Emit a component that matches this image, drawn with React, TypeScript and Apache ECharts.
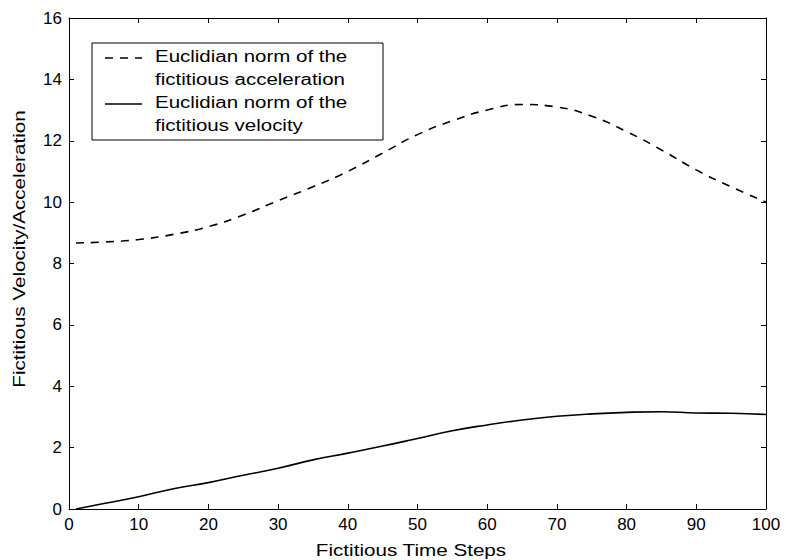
import React, { useEffect, useRef } from "react";
import * as echarts from "echarts";

const xSteps = [1, 5, 10, 15, 20, 25, 30, 35, 40, 45, 50, 55, 60, 65, 70, 75, 80, 85, 90, 95, 100];
const accelNorm = [8.67, 8.7, 8.78, 8.95, 9.2, 9.58, 10.05, 10.5, 11.0, 11.6, 12.2, 12.65, 13.0, 13.18, 13.1, 12.8, 12.3, 11.7, 11.05, 10.5, 10.0];
const velocityNorm = [0.0, 0.18, 0.4, 0.66, 0.86, 1.1, 1.33, 1.6, 1.82, 2.05, 2.3, 2.55, 2.74, 2.9, 3.02, 3.1, 3.15, 3.17, 3.13, 3.12, 3.08];

const legendLines = [
  "Euclidian norm of the",
  "fictitious acceleration",
  "Euclidian norm of the",
  "fictitious velocity",
];
const xTitle = "Fictitious Time Steps";
const yTitle = "Fictitious Velocity/Acceleration";

const FONT = "'Liberation Sans', Arial, Helvetica, sans-serif";

export default function App() {
  const ref = useRef<HTMLDivElement>(null);
  useEffect(() => {
    if (!ref.current) return;
    const chart = echarts.init(ref.current, null, { renderer: "svg" });
    const axisCommon = {
      type: "value" as const,
      axisLine: { show: true, onZero: false, lineStyle: { color: "#000", width: 1 } },
      axisTick: { show: true, inside: true, length: 5, lineStyle: { color: "#000" } },
      splitLine: { show: false },
    };
    const labelStyle = { color: "#000", fontSize: 17, fontFamily: FONT };
    chart.setOption({
      animation: false,
      backgroundColor: "#fff",
      grid: { left: 69, right: 20, top: 18, bottom: 51 },
      xAxis: [
        { ...axisCommon, min: 0, max: 100, interval: 10, position: "bottom", axisLabel: { ...labelStyle, margin: 7 } },
        { ...axisCommon, min: 0, max: 100, interval: 10, position: "top", axisLabel: { show: false } },
      ],
      yAxis: [
        { ...axisCommon, min: 0, max: 16, interval: 2, position: "left", axisLabel: { ...labelStyle, margin: 7 } },
        { ...axisCommon, min: 0, max: 16, interval: 2, position: "right", axisLabel: { show: false } },
      ],
      series: [
        {
          type: "line",
          name: "acceleration",
          data: xSteps.map((x, i) => [x, accelNorm[i]]),
          smooth: true,
          showSymbol: false,
          lineStyle: { color: "#000", width: 1.6, type: [8, 7] },
        },
        {
          type: "line",
          name: "velocity",
          data: xSteps.map((x, i) => [x, velocityNorm[i]]),
          smooth: true,
          showSymbol: false,
          lineStyle: { color: "#000", width: 1.6 },
        },
      ],
      graphic: [
        {
          type: "rect",
          shape: { x: 92, y: 43, width: 291, height: 97 },
          style: { fill: "#fff", stroke: "#000", lineWidth: 1 },
          z: 10,
        },
        {
          type: "line",
          shape: { x1: 105, y1: 58, x2: 142, y2: 58 },
          style: { stroke: "#000", lineWidth: 1.4, lineDash: [8, 7] },
          z: 11,
        },
        {
          type: "line",
          shape: { x1: 105, y1: 104, x2: 142, y2: 104 },
          style: { stroke: "#000", lineWidth: 1.4 },
          z: 11,
        },
        ...legendLines.map((t, i) => ({
          type: "text",
          x: 155,
          y: 56 + i * 23,
          scaleX: 1.28,
          z: 11,
          style: {
            text: t,
            fill: "#000",
            fontSize: 16,
            fontFamily: FONT,
            align: "left",
            verticalAlign: "middle",
          },
        })),
        {
          type: "text",
          x: 411,
          y: 550,
          scaleX: 1.29,
          style: {
            text: xTitle,
            fill: "#000",
            fontSize: 16,
            fontFamily: FONT,
            align: "center",
            verticalAlign: "middle",
          },
        },
        {
          type: "text",
          x: 19,
          y: 249,
          rotation: Math.PI / 2,
          scaleX: 1.29,
          style: {
            text: yTitle,
            fill: "#000",
            fontSize: 16,
            fontFamily: FONT,
            align: "center",
            verticalAlign: "middle",
          },
        },
      ],
    });
    return () => chart.dispose();
  }, []);
  return <div ref={ref} style={{ width: 786, height: 560, position: "absolute", left: 0, top: 0 }} />;
}
